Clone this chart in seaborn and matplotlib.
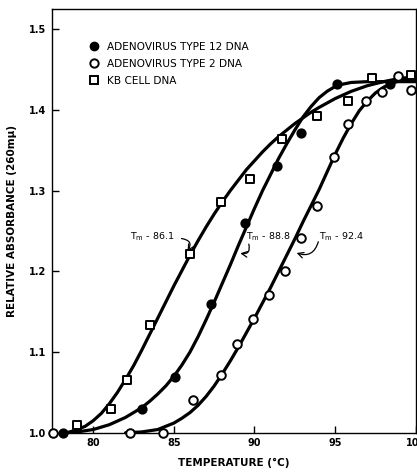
import numpy as np
import pandas as pd
import matplotlib
matplotlib.use('Agg')
import matplotlib.pyplot as plt
from matplotlib.lines import Line2D
import seaborn as sns

# Measured points (temperature in degC, relative absorbance at 260 mu)
ad12_t = [78.1, 83.0, 85.1, 87.3, 89.4, 91.4, 92.9, 95.1, 98.4]
ad12_a = [1.000, 1.030, 1.069, 1.159, 1.260, 1.330, 1.372, 1.432, 1.432]

ad2_t = [77.5, 82.3, 84.3, 86.2, 87.9, 88.9, 89.9, 90.9, 91.9, 92.9, 93.9,
         94.9, 95.8, 96.9, 97.9, 98.9, 99.7]
ad2_a = [1.000, 1.000, 1.000, 1.041, 1.072, 1.110, 1.141, 1.171, 1.201, 1.241,
         1.281, 1.342, 1.382, 1.411, 1.422, 1.442, 1.425]

kb_t = [79.0, 81.1, 82.1, 83.5, 86.0, 87.9, 89.7, 91.7, 93.9, 95.8, 97.3, 99.7]
kb_a = [1.009, 1.030, 1.065, 1.134, 1.222, 1.286, 1.314, 1.364, 1.392, 1.411,
        1.440, 1.443]

# Hand-drawn fitted curves
ad12_curve_t = [78.0, 79, 80, 81, 82, 83, 83.5, 84, 84.5, 85, 85.5, 86, 86.5,
                87, 87.5, 88, 88.5, 89, 89.5, 90, 90.5, 91, 91.5, 92, 92.5, 93,
                93.5, 94, 94.5, 95, 95.5, 96, 97, 100]
ad12_curve_a = [1.000, 1.001, 1.004, 1.010, 1.019, 1.031, 1.039, 1.048, 1.058,
                1.070, 1.084, 1.100, 1.119, 1.140, 1.162, 1.185, 1.208, 1.232,
                1.255, 1.278, 1.300, 1.320, 1.340, 1.358, 1.375, 1.391, 1.404,
                1.415, 1.423, 1.429, 1.432, 1.434, 1.435, 1.435]

ad2_curve_t = [82, 83, 84, 85, 85.5, 86, 86.5, 87, 87.5, 88, 88.5, 89, 89.5,
               90, 90.5, 91, 91.5, 92, 92.5, 93, 93.5, 94, 94.5, 95, 95.5, 96,
               96.5, 97, 97.5, 98, 98.5, 99, 100]
ad2_curve_a = [1.000, 1.001, 1.004, 1.012, 1.018, 1.025, 1.034, 1.045, 1.058,
               1.073, 1.089, 1.106, 1.124, 1.142, 1.161, 1.180, 1.200, 1.220,
               1.240, 1.261, 1.281, 1.301, 1.323, 1.345, 1.365, 1.383, 1.399,
               1.411, 1.421, 1.428, 1.433, 1.436, 1.438]

kb_curve_t = [78.4, 79, 79.5, 80, 80.5, 81, 81.5, 82, 82.5, 83, 83.5, 84, 84.5,
              85, 85.5, 86, 86.5, 87, 87.5, 88, 88.5, 89, 89.5, 90, 90.5, 91,
              91.5, 92, 92.5, 93, 93.5, 94, 95, 96, 97, 98, 99, 100]
kb_curve_a = [1.000, 1.004, 1.008, 1.015, 1.024, 1.036, 1.050, 1.066, 1.083,
              1.102, 1.122, 1.142, 1.162, 1.182, 1.201, 1.220, 1.238, 1.255,
              1.271, 1.286, 1.300, 1.313, 1.326, 1.337, 1.348, 1.358, 1.367,
              1.375, 1.383, 1.390, 1.397, 1.403, 1.414, 1.423, 1.430, 1.435,
              1.439, 1.441]

x_ticks = [80, 85, 90, 95, 100]
y_ticks = [1.0, 1.1, 1.2, 1.3, 1.4, 1.5]

labels = ['ADENOVIRUS TYPE 12 DNA', 'ADENOVIRUS TYPE 2 DNA', 'KB CELL DNA']
tm_labels = [r'T$_\mathrm{m}$ - 86.1', r'T$_\mathrm{m}$ - 88.8',
             r'T$_\mathrm{m}$ - 92.4']

sns.set_style('ticks')
plt.rcParams['font.family'] = ['DejaVu Sans']
plt.rcParams['mathtext.default'] = 'regular'
plt.rcParams['text.color'] = 'black'
plt.rcParams['axes.labelcolor'] = 'black'
plt.rcParams['xtick.color'] = 'black'
plt.rcParams['ytick.color'] = 'black'
plt.rcParams['axes.edgecolor'] = 'black'

fig = plt.figure(figsize=(4.17, 4.74), dpi=100)
ax = fig.add_axes([0.125, 0.087, 0.872, 0.894])

lw = 2.3
for ct, ca in [(ad12_curve_t, ad12_curve_a), (ad2_curve_t, ad2_curve_a),
               (kb_curve_t, kb_curve_a)]:
    sns.lineplot(x=ct, y=ca, ax=ax, color='black', linewidth=lw,
                 sort=False, estimator=None)

ms = 38
sns.scatterplot(x=ad12_t, y=ad12_a, ax=ax, marker='o', s=ms, color='black',
                edgecolor='black', linewidth=1.2, zorder=5, clip_on=False)
sns.scatterplot(x=ad2_t, y=ad2_a, ax=ax, marker='o', s=ms, color='white',
                edgecolor='black', linewidth=1.4, zorder=5, clip_on=False)
sns.scatterplot(x=kb_t, y=kb_a, ax=ax, marker='s', s=ms, color='white',
                edgecolor='black', linewidth=1.4, zorder=5, clip_on=False)

ax.set_xlim(77.45, 99.9)
ax.set_ylim(1.0, 1.525)
ax.set_xticks(x_ticks)
ax.set_yticks(y_ticks)
ax.set_xticklabels([str(t) for t in x_ticks], fontsize=7, fontweight='bold')
ax.set_yticklabels([f'{t:.1f}' for t in y_ticks], fontsize=7, fontweight='bold')
ax.tick_params(direction='in', length=5, width=1, pad=4)
for sp in ax.spines.values():
    sp.set_visible(True)
    sp.set_linewidth(1.0)

ax.set_xlabel('TEMPERATURE (°C)', fontsize=7.5, fontweight='bold', labelpad=7)
ax.set_ylabel('RELATIVE ABSORBANCE (260mμ)', fontsize=7.5, fontweight='bold',
              labelpad=9)

handles = [
    Line2D([], [], marker='o', linestyle='none', markersize=6,
           markerfacecolor='black', markeredgecolor='black'),
    Line2D([], [], marker='o', linestyle='none', markersize=6,
           markerfacecolor='white', markeredgecolor='black', markeredgewidth=1.4),
    Line2D([], [], marker='s', linestyle='none', markersize=6,
           markerfacecolor='white', markeredgecolor='black', markeredgewidth=1.4),
]
ax.legend(handles, labels, loc='upper left', bbox_to_anchor=(0.075, 0.945),
          frameon=False, fontsize=7.6, handletextpad=0.7, labelspacing=0.65,
          handlelength=1.0)

# Tm annotations with curled arrows
tm_text = [(82.25, 1.243), (89.45, 1.243), (94.0, 1.243)]
for lab, tx in zip(tm_labels, tm_text):
    ax.text(tx[0], tx[1], lab, fontsize=6.8, va='center', ha='left')

ax.annotate('', xy=(85.75, 1.222), xytext=(85.3, 1.241),
            arrowprops=dict(arrowstyle='->', lw=0.9, color='black',
                            connectionstyle='arc3,rad=-0.9'))
ax.annotate('', xy=(88.95, 1.223), xytext=(89.6, 1.237),
            arrowprops=dict(arrowstyle='->', lw=0.9, color='black',
                            connectionstyle='arc3,rad=-0.9'))
ax.annotate('', xy=(92.45, 1.224), xytext=(94.0, 1.240),
            arrowprops=dict(arrowstyle='->', lw=0.9, color='black',
                            connectionstyle='arc3,rad=-0.6'))

fig.savefig('out.png', dpi=100)
